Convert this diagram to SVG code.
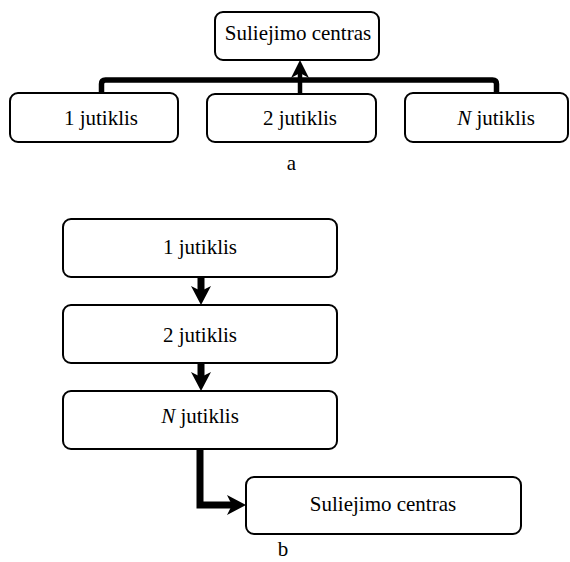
<svg xmlns="http://www.w3.org/2000/svg" width="570" height="562" viewBox="0 0 570 562">
<style>
.box{fill:#fff;stroke:#000;stroke-width:2}
.t{font-family:'Liberation Serif','Times New Roman','DejaVu Serif',serif;font-size:21px;fill:#000;text-anchor:middle}
.c{fill:none;stroke:#000;stroke-linejoin:miter}
</style>
<defs>
<marker id="ha" markerUnits="userSpaceOnUse" orient="auto" refX="8" refY="0" markerWidth="20" markerHeight="20" overflow="visible"><path d="M0,-9 L18,0 L0,9 L5,0 Z" fill="#000"/></marker>
<marker id="hb" markerUnits="userSpaceOnUse" orient="auto" refX="8" refY="0" markerWidth="20" markerHeight="20" overflow="visible"><path d="M0,-10 L19,0 L0,10 L5,0 Z" fill="#000"/></marker>
</defs>
<g id="connectors">
<path class="c" d="M101.5,93 V84 Q101.5,80 105.5,80 H492.5 Q496.5,80 496.5,84 V93" stroke-width="5.5"/>
<path class="c" d="M300,94 V70" stroke-width="4.5" marker-end="url(#ha)"/>
<path class="c" d="M201,277 V294" stroke-width="7" marker-end="url(#hb)"/>
<path class="c" d="M201,363 V380" stroke-width="7" marker-end="url(#hb)"/>
<path class="c" d="M200,449 V505 H235" stroke-width="7" marker-end="url(#hb)"/>
</g>
<g id="a-center"><rect class="box" x="215" y="12" width="164" height="48" rx="8"/><text class="t" x="298" y="40" font-family="Liberation Serif, serif">Suliejimo centras</text></g>
<g id="a-s1"><rect class="box" x="10" y="93" width="168" height="49" rx="8"/><text class="t" x="101" y="125">1 jutiklis</text></g>
<g id="a-s2"><rect class="box" x="207" y="94" width="169" height="48" rx="8"/><text class="t" x="300" y="125">2 jutiklis</text></g>
<g id="a-sN"><rect class="box" x="405" y="93" width="163" height="49" rx="8"/><text class="t" x="496" y="125"><tspan font-style="italic">N</tspan> jutiklis</text></g>
<text class="t" x="291.5" y="170">a</text>
<g id="b-s1"><rect class="box" x="63" y="219" width="274" height="58" rx="8"/><text class="t" x="200" y="254">1 jutiklis</text></g>
<g id="b-s2"><rect class="box" x="63" y="305" width="274" height="58" rx="8"/><text class="t" x="200" y="342">2 jutiklis</text></g>
<g id="b-sN"><rect class="box" x="63" y="391" width="274" height="58" rx="8"/><text class="t" x="200" y="423"><tspan font-style="italic">N</tspan> jutiklis</text></g>
<g id="b-center"><rect class="box" x="246" y="477" width="275" height="57" rx="8"/><text class="t" x="383" y="511">Suliejimo centras</text></g>
<text class="t" x="283" y="556">b</text>
</svg>
